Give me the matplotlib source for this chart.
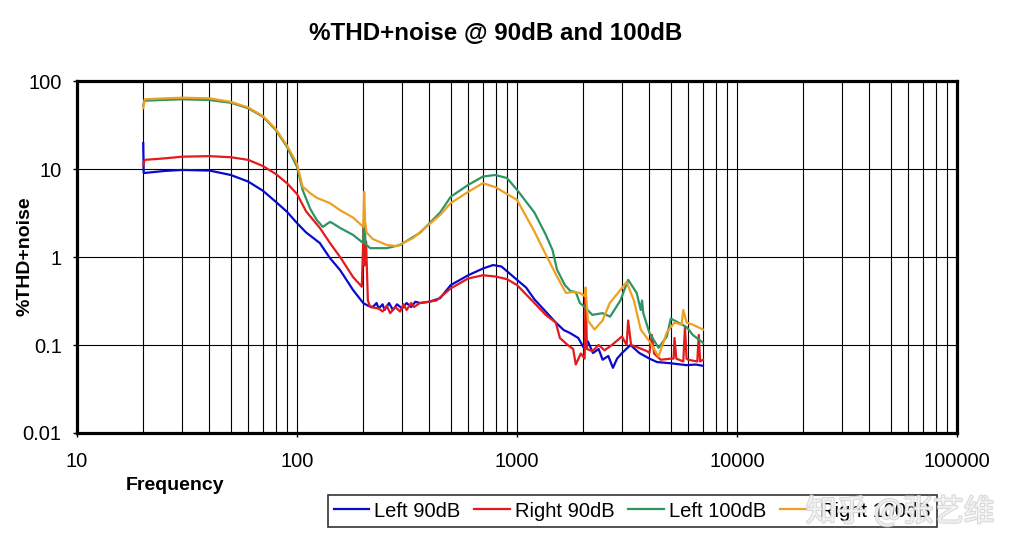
import matplotlib
matplotlib.use('Agg')
import matplotlib.pyplot as plt
import matplotlib.patheffects as pe
from matplotlib.ticker import LogLocator, NullFormatter, FixedLocator

plt.rcParams['font.family'] = ['Liberation Sans', 'Noto Sans CJK SC']

# Left 90dB
left90_f = [20, 20.1, 22, 25, 30, 40, 50, 60, 70, 80, 90, 100, 110, 127, 141,
            157, 180, 200, 210, 221, 230, 235, 245, 250, 262, 273, 285, 300,
            315, 330, 345, 362, 400, 447, 500, 600, 700, 778, 850, 1000, 1100,
            1200, 1350, 1500, 1630, 1740, 1900, 2000, 2100, 2215, 2350, 2450,
            2600, 2730, 2850, 3000, 3280, 3600, 4000, 4330, 5000, 5900, 6500,
            7000]
left90_v = [19.7, 9.0, 9.2, 9.5, 9.75, 9.6, 8.55, 7.2, 5.66, 4.25, 3.27, 2.43,
            1.9, 1.44, 0.975, 0.71, 0.42, 0.30, 0.28, 0.27, 0.30, 0.26, 0.29,
            0.25, 0.30, 0.25, 0.29, 0.26, 0.30, 0.27, 0.31, 0.30, 0.31, 0.34,
            0.48, 0.62, 0.74, 0.81, 0.78, 0.55, 0.45, 0.33, 0.24, 0.18, 0.148,
            0.137, 0.12, 0.095, 0.11, 0.081, 0.09, 0.068, 0.075, 0.055, 0.07,
            0.081, 0.1, 0.081, 0.07, 0.064, 0.062, 0.059, 0.06, 0.058]

# Right 90dB
right90_f = [20, 20.3, 25, 30, 40, 50, 60, 70, 80, 90, 100, 110, 127, 141, 157,
             180, 197, 201, 203, 206, 210, 215, 235, 245, 256, 265, 280, 294,
             305, 315, 330, 340, 362, 430, 500, 600, 700, 800, 900, 1000, 1200,
             1350, 1500, 1567, 1700, 1800, 1850, 1950, 2030, 2050, 2080, 2200,
             2350, 2500, 2700, 3000, 3150, 3200, 3300, 3500, 3900, 4000, 4100,
             4200, 4500, 5000, 5150, 5200, 5300, 5700, 5800, 5900, 6000, 6600,
             6700, 6800, 7000]
right90_v = [11.0, 12.7, 13.2, 13.8, 14.0, 13.6, 12.7, 10.8, 8.8, 6.9, 5.2, 3.3,
             2.14, 1.45, 1.0, 0.59, 0.46, 2.2, 0.8, 1.5, 0.32, 0.27, 0.26, 0.24,
             0.28, 0.23, 0.27, 0.24, 0.29, 0.25, 0.30, 0.27, 0.30, 0.32, 0.44,
             0.57, 0.62, 0.6, 0.56, 0.48, 0.30, 0.22, 0.18, 0.12, 0.1, 0.09,
             0.06, 0.08, 0.07, 0.42, 0.09, 0.085, 0.1, 0.087, 0.1, 0.125, 0.1,
             0.19, 0.1, 0.095, 0.085, 0.081, 0.13, 0.08, 0.068, 0.07, 0.07,
             0.12, 0.07, 0.065, 0.16, 0.07, 0.068, 0.065, 0.13, 0.065, 0.068]

# Left 100dB
left100_f = [20, 20.3, 25, 30, 40, 50, 60, 70, 80, 90, 100, 106, 115, 123, 131,
             141, 144, 157, 180, 200, 202, 205, 215, 256, 294, 362, 447, 500,
             600, 700, 795, 900, 1000, 1200, 1350, 1450, 1520, 1650, 1750, 1850,
             1930, 2000, 2200, 2450, 2650, 2950, 3200, 3500, 3650, 3700, 3750,
             4000, 4400, 4800, 5000, 5400, 5900, 6300, 7000]
left100_v = [53, 59.7, 61, 62, 60.8, 56.6, 49, 39.3, 27.8, 17.9, 10.6, 5.8, 3.5,
             2.63, 2.2, 2.5, 2.45, 2.14, 1.78, 1.44, 3.0, 1.4, 1.26, 1.26, 1.37,
             1.88, 3.2, 4.84, 6.6, 8.2, 8.55, 7.9, 5.8, 3.2, 1.8, 1.2, 0.72,
             0.48, 0.41, 0.40, 0.30, 0.28, 0.22, 0.23, 0.21, 0.32, 0.55, 0.39,
             0.25, 0.32, 0.23, 0.137, 0.093, 0.125, 0.2, 0.18, 0.16, 0.13, 0.106]

# Right 100dB
right100_f = [20, 20.3, 25, 30, 40, 50, 60, 70, 80, 90, 100, 106, 115, 123,
              141, 157, 180, 200, 202, 204, 207, 221, 256, 284, 337, 447, 500,
              600, 700, 800, 1000, 1200, 1320, 1520, 1670, 1800, 1930, 2030,
              2050, 2100, 2250, 2450, 2640, 2900, 3150, 3400, 3650, 4000, 4400,
              4800, 5200, 5600, 5700, 5900, 6300, 7000]
right100_v = [49, 62, 63.5, 64.6, 63.5, 58, 50, 40, 28.5, 18.5, 11.5, 6.3, 5.3,
              4.7, 4.1, 3.4, 2.8, 2.2, 5.5, 2.5, 1.9, 1.6, 1.37, 1.33, 1.64, 3.0,
              4.1, 5.5, 6.9, 6.2, 4.45, 1.95, 1.2, 0.6, 0.39, 0.40, 0.39, 0.36,
              0.45, 0.19, 0.15, 0.19, 0.30, 0.40, 0.52, 0.32, 0.15, 0.11, 0.074,
              0.14, 0.18, 0.17, 0.25, 0.18, 0.17, 0.15]

series = [
    ('Left 90dB', left90_f, left90_v, '#0a0acc'),
    ('Right 90dB', right90_f, right90_v, '#e41a1c'),
    ('Left 100dB', left100_f, left100_v, '#2e9462'),
    ('Right 100dB', right100_f, right100_v, '#f0a020'),
]

fig = plt.figure(figsize=(10.22, 5.55), dpi=100)
ax = fig.add_axes([77 / 1022, 1 - 433 / 555, 880 / 1022, 352 / 555])

for name, f, v, c in series:
    ax.plot(f, v, color=c, lw=1.6, label=name)

ax.set_xscale('log')
ax.set_yscale('log')
ax.set_xlim(10, 100000)
ax.set_ylim(0.01, 100)

# excel style grid: every minor x position, only decades on y
ax.xaxis.set_minor_locator(LogLocator(base=10, subs=range(2, 10), numticks=20))
ax.xaxis.set_minor_formatter(NullFormatter())
ax.yaxis.set_minor_locator(FixedLocator([]))
ax.grid(True, which='both', axis='x', color='black', lw=0.8)
ax.grid(True, which='major', axis='y', color='black', lw=0.8)
ax.tick_params(axis='x', which='minor', length=0)
ax.tick_params(axis='both', which='major', direction='out', length=3, width=1,
               labelsize=14.5)
ax.tick_params(axis='x', which='major', pad=11)
ax.tick_params(axis='y', which='major', pad=8)
ax.set_xticks([10, 100, 1000, 10000, 100000])
ax.set_xticklabels(['10', '100', '1000', '10000', '100000'])
ax.set_yticks([0.01, 0.1, 1, 10, 100])
ax.set_yticklabels(['0.01', '0.1', '1', '10', '100'])
for s in ax.spines.values():
    s.set_linewidth(2.3)
    s.set_color('black')

ax.set_xlabel('Frequency', fontsize=14, fontweight='bold')
ax.xaxis.set_label_coords(0.111, -0.124)
ax.set_ylabel('%THD+noise', fontsize=14, fontweight='bold')
ax.yaxis.set_label_coords(-0.049, 0.503)

fig.text(496 / 1022, 1 - 33 / 555, '%THD+noise @ 90dB and 100dB',
         fontsize=17.4, fontweight='bold', ha='center', va='center')

leg = ax.legend(loc='center', bbox_to_anchor=(0.631, -0.2216), ncol=4,
                fontsize=14.5, frameon=True, fancybox=False, edgecolor='black',
                handlelength=1.75, handletextpad=0.25, columnspacing=0.7,
                borderpad=0.3, borderaxespad=0)
leg.get_frame().set_linewidth(1.2)

# site watermark, translucent so the legend text shows through
fig.text(900 / 1022, 1 - 512 / 555, '知乎 @张艺维', fontsize=22, color='white',
         alpha=0.6, ha='center', va='center',
         family=['Noto Sans CJK SC', 'DejaVu Sans'],
         path_effects=[pe.withStroke(linewidth=1.5, foreground='#d0d0d0',
                                     alpha=0.8)])

fig.savefig('out.png', dpi=100)
